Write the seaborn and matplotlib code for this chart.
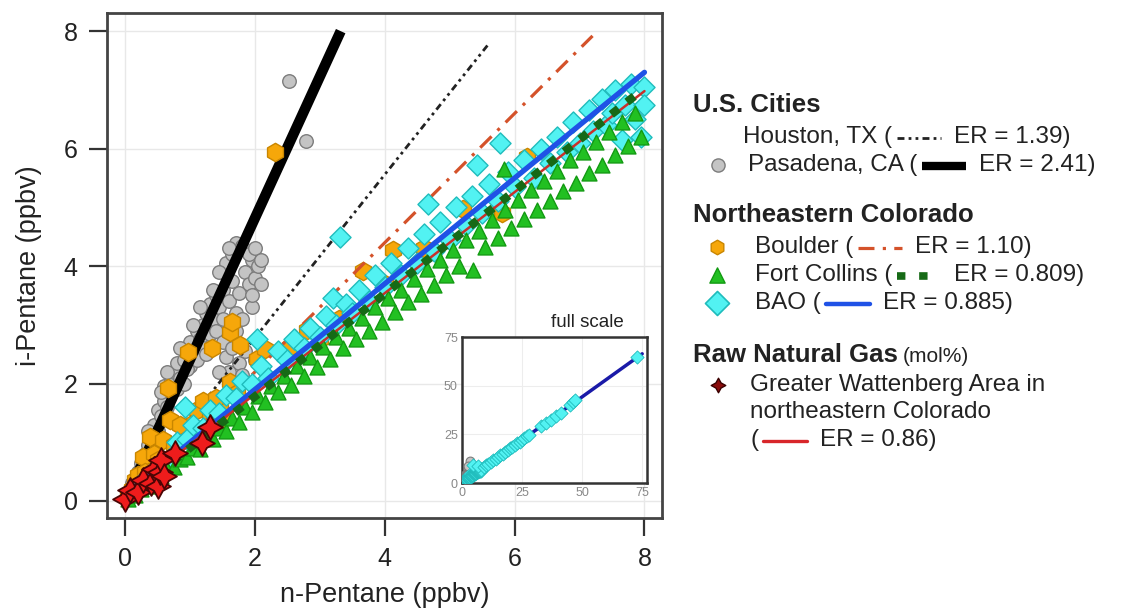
import numpy as np
import pandas as pd
import matplotlib
matplotlib.use("Agg")
import matplotlib.pyplot as plt
import seaborn as sns

# ---------------- data ----------------
pas_x = [0.05, 0.1, 0.15, 0.2, 0.25, 0.3, 0.3, 0.35, 0.4, 0.4, 0.45, 0.5, 0.5, 0.55, 0.6, 0.6, 0.65,
         0.7, 0.7, 0.75, 0.8, 0.8, 0.85, 0.9, 0.9, 0.95, 1.0, 1.0, 1.05, 1.1, 1.1, 1.15, 1.2, 1.2,
         1.25, 1.3, 1.3, 1.35, 1.4, 1.4, 1.45, 1.5, 1.5, 1.55, 1.55, 1.6, 1.65, 1.65, 1.7, 1.75,
         1.8, 1.85, 1.9, 1.95, 1.75, 1.85, 1.6, 2.53, 2.79, 1.95, 1.7, 3.5, 2.6,
         0.35, 0.55, 0.65, 0.85, 0.95, 1.05, 1.15, 1.25, 1.35, 1.45, 1.5, 1.6, 1.7, 1.8, 1.9,
         2.0, 2.0, 1.8, 2.05, 2.1, 2.0, 1.95, 2.1, 1.55, 1.65, 1.45]
pas_y = [0.12, 0.3, 0.35, 0.5, 0.65, 0.6, 0.8, 0.95, 0.9, 1.15, 1.3, 1.2, 1.55, 1.45, 1.7, 1.95, 1.6,
         1.85, 2.05, 2.2, 1.9, 2.35, 2.1, 2.4, 2.0, 2.6, 2.3, 2.7, 2.5, 2.9, 2.4, 2.75, 3.0, 2.6,
         3.2, 2.85, 3.35, 3.1, 3.5, 2.9, 3.3, 3.6, 3.1, 3.85, 4.05, 3.4, 3.75, 4.2, 4.4, 3.55,
         4.35, 3.9, 3.7, 3.3, 2.35, 2.55, 2.2, 7.15, 6.13, 4.1, 3.2, 11.5, 8.9,
         1.2, 1.85, 2.2, 2.6, 2.25, 3.0, 3.3, 2.5, 3.6, 3.9, 2.7, 4.3, 2.9, 3.1, 4.2,
         3.8, 2.4, 2.15, 4.0, 3.7, 4.3, 3.5, 4.1, 2.45, 2.6, 2.2]

bou_x = [0.05, 0.1, 0.15, 0.2, 0.28, 0.3, 0.39, 0.45, 0.59, 0.66, 0.69, 0.75, 0.9, 0.97, 1.0, 1.1,
         1.2, 1.34, 1.46, 1.62, 1.62, 1.65, 1.73, 1.77, 1.4, 1.3, 2.03, 2.16, 2.31, 2.54, 2.8, 3.0,
         3.3, 3.67, 4.13, 4.0, 4.6, 5.21, 5.8, 6.19, 0.5, 0.85, 1.05, 1.5]
bou_y = [0.1, 0.2, 0.35, 0.45, 0.75, 0.5, 1.09, 0.8, 1.04, 1.93, 1.38, 0.95, 1.16, 2.54, 1.3, 1.55,
         1.7, 2.61, 1.6, 2.03, 2.87, 3.04, 1.84, 2.66, 1.75, 1.45, 2.41, 2.58, 5.94, 2.63, 2.92, 2.75,
         3.1, 3.91, 4.28, 3.7, 4.3, 4.97, 4.9, 5.85, 0.7, 1.3, 1.0, 1.4]

fc_x = [0.05, 0.15, 0.25, 0.35, 0.45, 0.55, 0.65, 0.75, 0.85, 0.95,
        1.05, 1.15, 1.25, 1.35, 1.45, 1.55, 1.65, 1.75, 1.85, 1.95,
        2.05, 2.15, 2.25, 2.35, 2.45, 2.55, 2.65, 2.75, 2.85, 2.95,
        3.05, 3.15, 3.25, 3.35, 3.45, 3.55, 3.65, 3.75, 3.85, 3.95,
        4.05, 4.15, 4.25, 4.35, 4.45, 4.55, 4.65, 4.75, 4.85, 4.95,
        5.05, 5.15, 5.25, 5.36, 5.45, 5.55, 5.65, 5.83, 5.75, 5.85,
        5.95, 6.05, 6.15, 6.25, 6.35, 6.45, 6.55, 6.65, 6.75, 6.85,
        6.95, 7.05, 7.15, 7.25, 7.35, 7.45, 7.55, 7.65, 7.75, 7.85, 7.95]
fc_y = [0.03, 0.1, 0.2, 0.25, 0.38, 0.42, 0.55, 0.58, 0.72, 0.75,
        0.9, 0.88, 1.08, 1.05, 1.25, 1.2, 1.42, 1.35, 1.6, 1.52,
        1.78, 1.68, 1.95, 1.85, 2.12, 1.98, 2.3, 2.12, 2.45, 2.28,
        2.62, 2.42, 2.8, 2.6, 2.95, 2.75, 3.12, 2.9, 3.3, 3.05,
        3.45, 3.22, 3.6, 3.38, 3.78, 3.52, 3.95, 3.68, 4.1, 3.85,
        4.28, 4.0, 4.45, 3.94, 4.6, 4.32, 4.78, 5.65, 4.48, 4.95,
        4.65, 5.12, 4.8, 5.3, 4.95, 5.45, 5.1, 5.62, 5.28, 5.8,
        5.42, 5.95, 5.58, 6.12, 5.72, 6.28, 5.9, 6.45, 6.05, 6.6, 6.2]

bao_x = [0.1, 0.25, 0.4, 0.55, 0.7, 0.8, 0.92, 0.95, 1.05, 1.2, 1.3, 1.45, 1.55, 1.7, 1.8, 1.95,
         2.03, 2.1, 2.2, 2.35, 2.5, 2.6, 2.75, 2.85, 3.0, 3.1, 3.2, 3.25, 3.31, 3.4, 3.5, 3.6,
         3.75, 3.85, 4.0, 4.1, 4.25, 4.35, 4.5, 4.6, 4.67, 4.75, 4.85, 5.0, 5.1, 5.25, 5.35, 5.42,
         5.5, 5.6, 5.75, 5.78, 5.9, 6.0, 6.15, 6.3, 6.4, 6.55, 6.65, 6.8, 6.9, 7.0, 7.15, 7.2,
         7.35, 7.4, 7.5, 7.55, 7.65, 7.7, 7.8, 7.85, 7.95, 8.0, 8.0,
         4.5, 6.5, 9, 10, 11, 12, 13, 14, 15, 16, 17, 18, 19, 20, 21, 22, 23, 24, 25, 26, 27, 28,
         33, 35, 37, 39, 41, 45, 46, 47, 73]
bao_y = [0.12, 0.3, 0.45, 0.65, 0.75, 1.0, 1.6, 1.05, 1.3, 1.25, 1.55, 1.5, 1.8, 1.75, 2.05, 2.0,
         2.75, 2.3, 2.1, 2.55, 2.4, 2.75, 2.6, 2.95, 2.8, 3.15, 3.46, 3.0, 4.49, 3.35, 3.2, 3.6,
         3.4, 3.85, 3.65, 4.05, 3.85, 4.3, 4.05, 4.55, 5.05, 4.25, 4.75, 4.45, 5.0, 4.7, 5.2, 5.73,
         4.9, 5.4, 5.1, 6.1, 5.6, 5.35, 5.8, 5.5, 6.0, 5.75, 6.2, 5.95, 6.45, 6.1, 6.65, 6.3,
         6.85, 6.4, 6.6, 7.0, 6.15, 6.75, 7.1, 6.5, 6.2, 7.05, 6.75,
         9.0, 8.8, 8.3, 9.2, 9.9, 10.9, 11.6, 12.5, 13.4, 14.3, 15.1, 16.0, 16.9, 17.8, 18.7, 19.5,
         20.4, 21.3, 22.2, 23.1, 24.0, 24.9, 29.2, 30.8, 32.6, 34.3, 36.0, 40.2, 41.5, 42.8, 64.8]

gas_x = [0.0, 0.08, 0.2, 0.28, 0.4, 0.45, 0.5, 0.54, 0.55, 0.6, 0.77, 1.19, 1.31]
gas_y = [0.03, 0.19, 0.15, 0.36, 0.3, 0.55, 0.25, 0.5, 0.7, 0.42, 0.82, 0.99, 1.26]

# fitted lines (as drawn in the figure)
fit_name = ["Houston", "Pasadena", "Boulder", "Fort Collins", "BAO", "Raw gas"]
fit_er_label = ["1.39", "2.41", "1.10", "0.809", "0.885", "0.86"]
fit_slope = [1.39, 2.41, 1.10, 0.875, 0.90, 0.86]
fit_icpt = [0.0, 0.0, 0.0, 0.03, 0.10, 0.10]
fit_xmax = [5.6, 3.32, 7.2, 7.9, 8.0, 8.0]

x_ticks = [0, 2, 4, 6, 8]
y_ticks = [0, 2, 4, 6, 8]
inset_ticks = [0, 25, 50, 75]

# ---------------- styles ----------------
C_GRAY, E_GRAY = "#c4c4c4", "#7c7c7c"
C_ORG, E_ORG = "#f6a70a", "#c98600"
C_GRN, E_GRN = "#22c022", "#139a13"
C_CYN, E_CYN = "#52f2f2", "#1fbcbc"
C_RED, E_RED = "#ee1c1c", "#4a0505"
L_STYLES = {
    "Houston": dict(color="#222222", lw=2.0, ls=(0, (2.5, 1.5, 1, 1.5, 1, 1.5)), zorder=3),
    "Pasadena": dict(color="black", lw=7.5, solid_capstyle="butt", zorder=3),
    "Boulder": dict(color="#d4522a", lw=2.3, ls=(0, (5, 2.6, 1, 2.6)), zorder=4.5),
    "Fort Collins": dict(color="#166a16", lw=6.0, ls=(0, (1.1, 1.3)), zorder=8),
    "BAO": dict(color="#1f52e6", lw=3.8, zorder=7),
    "Raw gas": dict(color="#c8302a", lw=1.8, zorder=7.5),
}
star = (4, 1, 0)

sns.set_theme(style="white")
plt.rcParams["font.family"] = ["Liberation Sans", "DejaVu Sans"]

W, H = 1132, 613
fig = plt.figure(figsize=(W / 100, H / 100), dpi=100)

# ---------------- main axes ----------------
ax = fig.add_axes([107 / W, 1 - 518 / H, 555 / W, 505 / H])
ax.set_axisbelow(True)
ax.grid(True, color="#e8e8e8", lw=1.0)

def scat(a, xs, ys, marker, s, fc, ec, z, lw=1.0):
    df = pd.DataFrame({"x": xs, "y": ys})
    sns.scatterplot(data=df, x="x", y="y", ax=a, marker=marker, s=s, color=fc,
                    edgecolor=ec, linewidth=lw, zorder=z, legend=False)

scat(ax, pas_x, pas_y, "o", 95, C_GRAY, E_GRAY, 2)
scat(ax, bou_x, bou_y, "h", 175, C_ORG, E_ORG, 4)
scat(ax, bao_x, bao_y, "D", 115, C_CYN, E_CYN, 5)
scat(ax, fc_x, fc_y, "^", 115, C_GRN, E_GRN, 6)
scat(ax, gas_x, gas_y, star, 320, C_RED, E_RED, 9, lw=1.3)

for name, m, b, xm in zip(fit_name, fit_slope, fit_icpt, fit_xmax):
    xs = np.array([0.0, xm])
    ax.plot(xs, m * xs + b, **L_STYLES[name])

ax.set_xlim(-0.28, 8.27)
ax.set_ylim(-0.29, 8.31)
ax.set_xticks(x_ticks)
ax.set_yticks(y_ticks)
ax.set_xlabel("n-Pentane (ppbv)", fontsize=19.5, labelpad=8, color="#222222")
ax.set_ylabel("i-Pentane (ppbv)", fontsize=19.5, labelpad=16, color="#222222")
ax.tick_params(direction="out", length=13, width=1.6, color="#333333", labelsize=18,
               labelcolor="#222222", pad=8, bottom=True, left=True, top=False, right=False)
for sp in ax.spines.values():
    sp.set_linewidth(2.0)
    sp.set_color("#444444")

# ---------------- inset ----------------
ai = fig.add_axes([462 / W, 1 - 483 / H, 185 / W, 146 / H])
ai.set_axisbelow(True)
ai.grid(True, color="#ededed", lw=0.8)
xs = np.array([0.0, 75.0])
ai.plot(xs, 0.885 * xs, color="#1a1aa8", lw=2.5, zorder=2)
scat(ai, pas_x, pas_y, "o", 40, C_GRAY, E_GRAY, 3, lw=0.8)
scat(ai, bao_x, bao_y, "D", 45, C_CYN, E_CYN, 4, lw=0.6)
ai.set_xlim(0, 77)
ai.set_ylim(0, 75)
ai.set_xticks(inset_ticks)
ai.set_yticks(inset_ticks)
ai.set_xlabel("")
ai.set_ylabel("")
ai.tick_params(direction="in", length=7, width=1.6, color="#333333", labelsize=9,
               labelcolor="#888888", pad=3)
for sp in ai.spines.values():
    sp.set_linewidth(1.8)
    sp.set_color("#333333")
ai.text(0.68, 1.04, "full scale", transform=ai.transAxes, ha="center", va="bottom",
        fontsize=13.5, color="#222222")

# ---------------- legend (custom, text based) ----------------
lax = fig.add_axes([0, 0, 1, 1], facecolor="none")
lax.set_xlim(0, W)
lax.set_ylim(H, 0)
lax.axis("off")
renderer = fig.canvas.get_renderer()
FS = 17.5
TC = "#222222"

def put_text(x, y, s, **kw):
    kw.setdefault("fontsize", FS)
    kw.setdefault("color", TC)
    t = lax.text(x, y, s, va="center", ha="left", **kw)
    bb = t.get_window_extent(renderer)
    return bb.x1

def sample(x0, y, length, style):
    st = dict(style)
    st.pop("zorder", None)
    lax.plot([x0, x0 + length], [y, y], **st)
    return x0 + length

legend_style = dict(L_STYLES)
legend_style["Pasadena"] = dict(color="black", lw=6.0, solid_capstyle="butt")
legend_style["BAO"] = dict(color="#1f52e6", lw=3.2)
legend_style["Fort Collins"] = dict(color="#166a16", lw=5.5, ls=(0, (1.1, 1.8)))

def er_row(x, y, label, name, er):
    x1 = put_text(x, y, label + " (")
    x2 = sample(x1 + 5, y + 1, 44, legend_style[name])
    put_text(x2 + 13, y, "ER = " + er + ")")

put_text(693, 105, "U.S. Cities", fontweight="bold", fontsize=18.5)
er_row(743, 137, "Houston, TX", "Houston", fit_er_label[0])
lax.scatter([718], [165], marker="o", s=90, color=C_GRAY, edgecolor=E_GRAY, lw=1.0)
er_row(748, 165, "Pasadena, CA", "Pasadena", fit_er_label[1])

put_text(693, 215, "Northeastern Colorado", fontweight="bold", fontsize=18.5)
lax.scatter([717], [247], marker="h", s=110, color=C_ORG, edgecolor=E_ORG, lw=1.0)
er_row(755, 247, "Boulder", "Boulder", fit_er_label[2])
lax.scatter([717], [275], marker="^", s=120, color=C_GRN, edgecolor=E_GRN, lw=1.0)
er_row(755, 275, "Fort Collins", "Fort Collins", fit_er_label[3])
lax.scatter([717], [303], marker="D", s=150, color=C_CYN, edgecolor=E_CYN, lw=1.2)
er_row(755, 303, "BAO", "BAO", fit_er_label[4])

xr = put_text(693, 355, "Raw Natural Gas", fontweight="bold", fontsize=18.5)
put_text(xr + 5, 356, "(mol%)", fontsize=15)
lax.scatter([718], [385], marker=star, s=110, color="#8a0c0c", edgecolor="#3a0000", lw=1.0)
put_text(750, 385, "Greater Wattenberg Area in")
put_text(750, 412, "northeastern Colorado")
x1 = put_text(750, 440, "(")
x2 = sample(x1 + 5, 441, 44, dict(color="#d8262a", lw=2.4))
put_text(x2 + 13, 440, "ER = " + fit_er_label[5] + ")")

fig.savefig("out.png", dpi=100)
